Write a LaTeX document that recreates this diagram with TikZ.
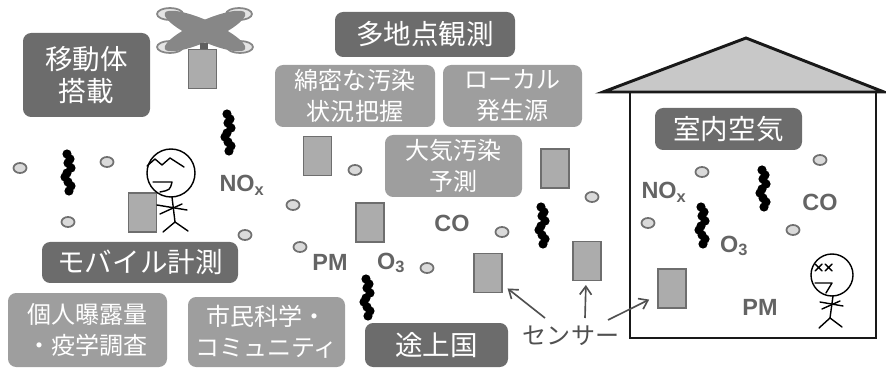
\documentclass[tikz,border=0pt]{standalone}
\usepackage{fontspec}
\newfontfamily\jpfont{Noto Sans CJK JP}
\newfontfamily\labfont{Liberation Sans}
\usepackage{tikz}
\usetikzlibrary{arrows.meta}
\definecolor{boxdark}{RGB}{108,108,108}
\definecolor{boxlight}{RGB}{158,158,158}
\definecolor{sensorfill}{RGB}{172,172,172}
\definecolor{sensorline}{RGB}{110,110,110}
\definecolor{gastext}{RGB}{100,100,100}
\definecolor{partfill}{RGB}{218,218,218}
\definecolor{partline}{RGB}{112,112,112}
\definecolor{roofgray}{RGB}{200,200,200}
\definecolor{dronegray}{RGB}{135,135,135}
\definecolor{rotorfill}{RGB}{228,228,228}
\definecolor{arrowgray}{RGB}{80,80,80}
\newcommand{\pxu}{0.03cm}

\begin{document}
\begin{tikzpicture}[x=\pxu, y=-\pxu,
    darkbox/.style={rectangle, rounded corners=7pt, fill=boxdark, text=white, align=center,
                    inner sep=0pt, font=\jpfont\fontsize{23.5}{27}\selectfont},
    lightbox/.style={rectangle, rounded corners=7pt, fill=boxlight, text=white, align=center,
                     inner sep=0pt, font=\jpfont\fontsize{20.5}{26.5}\selectfont},
    sensor/.style={rectangle, draw=sensorline, fill=sensorfill, line width=1.7pt,
                   minimum width=28*\pxu, minimum height=39*\pxu, inner sep=0pt},
    gas/.style={font=\labfont\bfseries\fontsize{20}{21}\selectfont, text=gastext, inner sep=0pt},
    particle/.style={draw=partline, fill=partfill, line width=1.5pt},
    soot/.style={fill=black},
    rotor/.style={draw=dronegray, fill=rotorfill, line width=1.5pt},
    figure/.style={draw=black, line width=1.2pt, line cap=round, line join=round},
    house/.style={draw=black!90, line width=2.5pt, line join=miter},
    arrow/.style={-{Straight Barb[length=7pt,width=10pt]}, line width=1.4pt, draw=arrowgray}
]
\useasboundingbox (0,0) rectangle (886,369);

% house
\draw[house] (630,92) -- (630,338) -- (876,338) -- (876,92);
\draw[house, fill=roofgray] (603,92) -- (746,38) -- (884,92) -- cycle;

% text boxes
\node[darkbox, minimum width=127*\pxu, minimum height=84*\pxu] (mobile) at (86.5,75) {移動体\\搭載};
\node[darkbox, minimum width=180*\pxu, minimum height=45*\pxu] (multi) at (425,34.5) {多地点観測};
\node[lightbox, minimum width=160*\pxu, minimum height=62*\pxu] (dense) at (355,96) {綿密な汚染\\状況把握};
\node[lightbox, minimum width=139*\pxu, minimum height=62*\pxu] (local) at (512.5,96) {ローカル\\発生源};
\node[lightbox, minimum width=137*\pxu, minimum height=62*\pxu] (forecast) at (453.5,166) {大気汚染\\予測};
\node[darkbox, minimum width=147*\pxu, minimum height=42*\pxu] (indoor) at (728.5,129) {室内空気};
\node[darkbox, minimum width=196*\pxu, minimum height=41*\pxu] (mobmeas) at (140,262.5) {モバイル計測};
\node[lightbox, minimum width=159*\pxu, minimum height=74*\pxu] (exposure) at (87.5,330) {個人曝露量\\・疫学調査};
\node[lightbox, minimum width=157*\pxu, minimum height=70*\pxu] (citizen) at (266.5,332) {市民科学・\\コミュニティ};
\node[darkbox, minimum width=143*\pxu, minimum height=44*\pxu] (develop) at (436.5,345) {途上国};

% drone
\foreach \rx/\ry in {170/14, 239/14, 170/47, 240/47}
  \draw[rotor] (\rx,\ry) ellipse[x radius=13*\pxu, y radius=6*\pxu];
\fill[dronegray, rotate around={-24:(205,31)}] (205,31) ellipse[x radius=44*\pxu, y radius=10.5*\pxu];
\fill[dronegray, rotate around={24:(205,31)}] (205,31) ellipse[x radius=44*\pxu, y radius=10.5*\pxu];
\fill[dronegray!70!black] (200,43) rectangle (208,51);
\node[sensor] (sd) at (202.5,69) {};

% sensors
\node[sensor] (s1) at (142.5,212.5) {};
\node[sensor] (s2) at (317.5,156) {};
\node[sensor] (s3) at (370,222.5) {};
\node[sensor] (s4) at (554.5,168.5) {};
\node[sensor] (s5) at (488,273) {};
\node[sensor] (s6) at (586.5,261) {};
\node[sensor] (s7) at (671.5,288.5) {};

% particles
\foreach \px/\py in {20/168, 107/162, 68/222, 245/235, 293/205, 300/247, 355/170, 427/268,
                     502/232, 592/197, 648/223, 702/172, 820/160, 793/230}
  \draw[particle] (\px,\py) ellipse[x radius=6.5*\pxu, y radius=5*\pxu];

% soot chains
\foreach \cx/\cy in {67/154, 227/114, 541/207, 366/279, 762/170, 701/207}
  \foreach \dx/\dy in {0/0, 3/5, 1/9, 4/14, 0/19, -2/23, 1/28, 4/32, 2/37}
    \fill[soot] (\cx+\dx,\cy+\dy) circle[radius=4.6*\pxu];

% gas labels
\node[gas] (nox1) at (242,185) {NO\textsubscript{x}};
\node[gas] (pm1) at (330,262) {PM};
\node[gas] (oz1) at (391,263) {O\textsubscript{3}};
\node[gas] (co1) at (452,223) {CO};
\node[gas] (nox2) at (664,192) {NO\textsubscript{x}};
\node[gas] (co2) at (820,202) {CO};
\node[gas] (oz2) at (734,246) {O\textsubscript{3}};
\node[gas] (pm2) at (760,307) {PM};

% walking person
\draw[figure] (171,173) circle[radius=24*\pxu];
\draw[figure] (147,166) -- (155,159) -- (162,165) -- (170,158) -- (184,167);
\draw[figure] (153,182) -- (172,182) .. controls (170,190) .. (160,192);
\draw[figure] (172,197) -- (175,222);
\draw[figure] (157,205) -- (187,210);
\draw[figure] (160,214) -- (182,204);
\draw[figure] (175,222) -- (163,232);
\draw[figure] (175,222) -- (188,231);

% person indoors
\draw[figure] (832,275) circle[radius=21*\pxu];
\draw[figure] (815,264) -- (822,271) (815,271) -- (822,264);
\draw[figure] (825,264) -- (832,271) (825,271) -- (832,264);
\draw[figure] (815,283) -- (832,283) -- (826,293);
\draw[figure] (833,296) -- (830,318);
\draw[figure] (820,302) -- (843,306);
\draw[figure] (822,309) -- (840,301);
\draw[figure] (830,318) -- (819,328);
\draw[figure] (830,318) -- (842,327);

% sensor callout
\node[font=\jpfont\fontsize{20.5}{24}\selectfont, text=arrowgray, inner sep=0pt] (sensorlab) at (571,336) {センサー};
\coordinate (a5) at (545,318);
\coordinate (a6) at (585,318);
\coordinate (a7) at (608,320);
\draw[arrow, shorten >=5pt] (a5) -- (s5);
\draw[arrow, shorten >=3pt] (a6) -- (s6);
\draw[arrow, shorten >=7pt] (a7) -- (s7);
\end{tikzpicture}
\end{document}
